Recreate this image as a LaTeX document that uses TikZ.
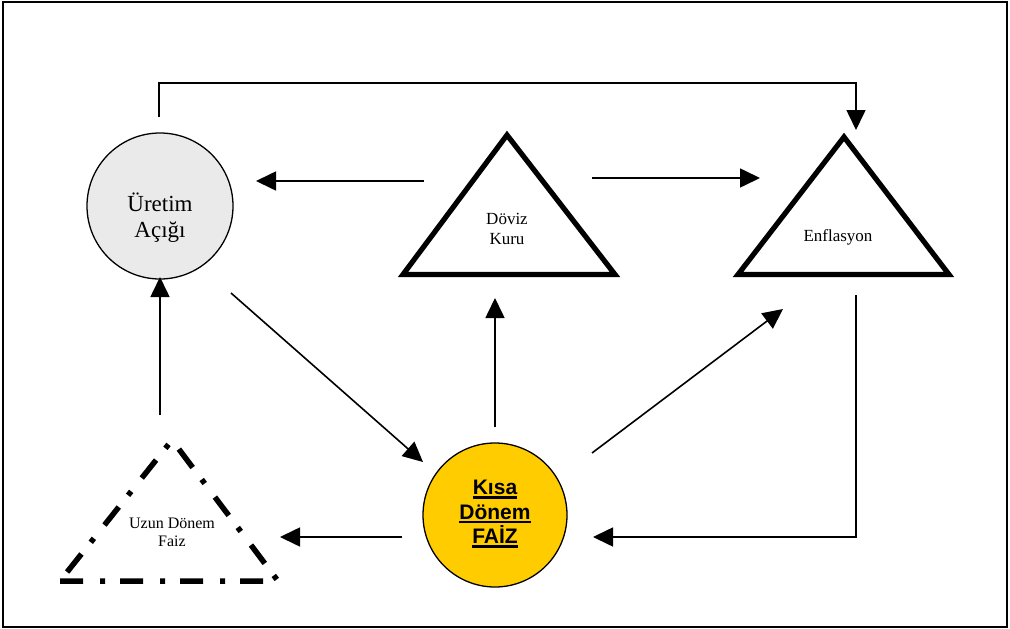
\documentclass[tikz,border=0pt]{standalone}
\usepackage{fontspec}
\setmainfont{Liberation Serif}
\newfontfamily\arialfont{Liberation Sans}
\usetikzlibrary{arrows.meta}
\newcommand\thickul[1]{\setbox0=\hbox{#1}\rlap{\rule[-3.8pt]{\wd0}{2.4pt}}\box0}
\definecolor{faizyellow}{RGB}{255,204,0}
\definecolor{gapgray}{RGB}{234,234,234}
\begin{document}
\begin{tikzpicture}[x=1pt,y=-1pt,
  conn/.style={line width=1.6pt,-{Triangle[length=20pt,width=19pt]}},
  tri/.style={line width=5.2pt,line join=miter},
  lbl/.style={align=center,inner sep=0pt},
]
\useasboundingbox (0,0) rectangle (1010,629);
\node[draw,line width=1.5pt,minimum width=1004pt,minimum height=625pt,inner sep=0pt] (frame) at (505,314.5) {};

% Uretim Acigi
\node[circle,draw,line width=1.3pt,fill=gapgray,minimum size=146pt,inner sep=0pt] (ua) at (160,206) {};
\node[lbl,font=\fontsize{23}{26}\selectfont] (uatext) at (160,218) {Üretim\\Açığı};

% Doviz Kuru
\draw[tri] (403,274.5) -- (615,274.5) -- (507,135) -- cycle;
\node[lbl,font=\fontsize{17}{20}\selectfont] (dk) at (507,229) {Döviz\\Kuru};

% Enflasyon
\draw[tri] (738,274.5) -- (949,274.5) -- (844,137) -- cycle;
\node[lbl,font=\fontsize{17}{20}\selectfont] (enf) at (838,237) {Enflasyon};

% Uzun Donem Faiz
\draw[line width=5.5pt,dash pattern=on 23pt off 17pt on 5pt off 15pt] (60,581) -- (278,581) -- (172,440) -- cycle;
\node[lbl,font=\fontsize{16}{18}\selectfont] (udf) at (172,532) {Uzun Dönem\\Faiz};

% Kisa Donem Faiz
\node[circle,draw,line width=1.3pt,fill=faizyellow,minimum size=144pt,inner sep=0pt] (kd) at (495,515) {};
\node[lbl,font=\arialfont\bfseries\fontsize{21}{24.5}\selectfont] (kdtext) at (495,514) {\thickul{Kısa}\\\thickul{Dönem}\\\thickul{FAİZ}};

% connector end points
\coordinate (a1s) at (159,117); \coordinate (a1b) at (159,83);
\coordinate (a1c) at (856,83);  \coordinate (a1e) at (856,130);
\coordinate (a2s) at (424,181); \coordinate (a2e) at (256,181);
\coordinate (a3s) at (592,178); \coordinate (a3e) at (760,178);
\coordinate (a4s) at (495,427); \coordinate (a4e) at (495,298);
\coordinate (a5s) at (160,415); \coordinate (a5e) at (160,277);
\coordinate (a6s) at (231,293); \coordinate (a6e) at (423,462);
\coordinate (a7s) at (592,453); \coordinate (a7e) at (783,309);
\coordinate (a8s) at (856,295); \coordinate (a8b) at (856,537); \coordinate (a8e) at (593,537);
\coordinate (a9s) at (402,537); \coordinate (a9e) at (280,537);

\draw[conn] (a1s) -- (a1b) -- (a1c) -- (a1e);
\draw[conn] (a2s) -- (a2e);
\draw[conn] (a3s) -- (a3e);
\draw[conn] (a4s) -- (a4e);
\draw[conn] (a5s) -- (a5e);
\draw[conn] (a6s) -- (a6e);
\draw[conn] (a7s) -- (a7e);
\draw[conn] (a8s) -- (a8b) -- (a8e);
\draw[conn] (a9s) -- (a9e);
\end{tikzpicture}
\end{document}
